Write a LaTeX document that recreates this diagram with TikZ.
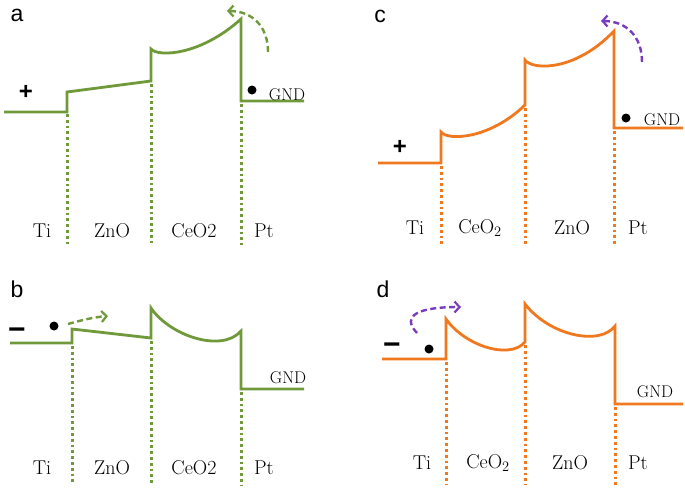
\documentclass[tikz,border=0pt]{standalone}
\usepackage{fontspec}
\newfontfamily\lettfont{Liberation Sans}
\usetikzlibrary{arrows.meta}
\definecolor{bandgreen}{RGB}{112,153,58}
\definecolor{bandorange}{RGB}{240,120,30}
\definecolor{arrowpurple}{RGB}{120,60,190}
\tikzset{
  band/.style={line width=2.8pt, line join=miter},
  sep/.style={line width=3pt, dash pattern=on 2.8pt off 3pt},
  hop/.style={line width=2.4pt, dash pattern=on 6pt off 3.5pt, -{Straight Barb[length=5pt,width=11pt,line width=2.2pt]}},
  lay/.style={font=\fontsize{20}{23}\selectfont, inner sep=0pt},
  gnd/.style={font=\fontsize{17}{19}\selectfont, inner sep=0pt},
  panel/.style={font=\lettfont\fontsize{23}{26}\selectfont, inner sep=0pt},
  sign/.style={font=\lettfont\bfseries\fontsize{24}{26}\selectfont, inner sep=0pt},
  minus/.style={font=\lettfont\bfseries\fontsize{30}{32}\selectfont, inner sep=0pt},
  elec/.style={fill=black, circle, inner sep=0pt, minimum size=9pt}
}
\begin{document}
\begin{tikzpicture}[x=1pt,y=-1pt]
\useasboundingbox (0,0) rectangle (685,491);
\fill[white] (0,0) rectangle (685,491);

% ---------------- panel a ----------------
\begin{scope}[bandgreen]
\draw[band] (4,112) -- (67,112) -- (67,92) -- (151,81) -- (151,49)
  .. controls (158,57) and (200,56) .. (241,19) -- (241,101) -- (304,101);
\draw[sep] (67,114) -- (67,245);
\draw[sep] (151,84) -- (151,245);
\draw[sep] (241,104) -- (241,245);
\coordinate (aS) at (268,52);
\coordinate (aE) at (227,11);
\draw[hop] (aS) .. controls (268,26) and (252,11) .. (aE);
\end{scope}
\node[panel] (la) at (17,15) {a};
\node[sign] (pa) at (26,92) {+};
\node[elec] (ea) at (252,90) {};
\node[gnd] (ga) at (287,95) {GND};
\node[lay] (a1) at (42,231) {Ti};
\node[lay] (a2) at (112,231) {ZnO};
\node[lay] (a3) at (194,231) {CeO2};
\node[lay] (a4) at (264,231) {Pt};

% ---------------- panel b ----------------
\begin{scope}[bandgreen]
\draw[band] (10,343) -- (72,343) -- (72,329) -- (151,338) -- (151,308)
  .. controls (170,336) and (222,353) .. (241,331) -- (241,389) -- (304,389);
\draw[sep] (72,346) -- (72,485);
\draw[sep] (151,341) -- (151,485);
\draw[sep] (241,392) -- (241,485);
\coordinate (bS) at (68,324);
\coordinate (bE) at (108,316);
\draw[hop] (bS) .. controls (82,320) and (95,317) .. (bE);
\end{scope}
\node[panel] (lb) at (17,289) {b};
\node[minus] (mb) at (17,334) {−};
\node[elec] (eb) at (54,326) {};
\node[gnd] (gb) at (288,378) {GND};
\node[lay] (b1) at (42,468) {Ti};
\node[lay] (b2) at (112,468) {ZnO};
\node[lay] (b3) at (194,468) {CeO2};
\node[lay] (b4) at (264,468) {Pt};

% ---------------- panel c ----------------
\begin{scope}[bandorange]
\draw[band] (378,163) -- (441,163) -- (441,132)
  .. controls (448,141) and (490,139) .. (525,105) -- (525,60)
  .. controls (532,70) and (575,72) .. (614,31) -- (614,128) -- (683,128);
\draw[sep] (441,166) -- (441,245);
\draw[sep] (525,108) -- (525,245);
\draw[sep] (614,131) -- (614,245);
\end{scope}
\coordinate (cS) at (642,62);
\coordinate (cE) at (601,21);
\draw[hop, arrowpurple] (cS) .. controls (642,36) and (626,21) .. (cE);
\node[panel] (lc) at (380,16) {c};
\node[sign] (pc) at (400,147) {+};
\node[elec] (ec) at (626,118) {};
\node[gnd] (gc) at (662,120) {GND};
\node[lay] (c1) at (415,228) {Ti};
\node[lay] (c2) at (480,228) {CeO$_2$};
\node[lay] (c3) at (572,228) {ZnO};
\node[lay] (c4) at (638,228) {Pt};

% ---------------- panel d ----------------
\begin{scope}[bandorange]
\draw[band] (382,359) -- (446,359) -- (446,319)
  .. controls (465,346) and (510,360) .. (525,342) -- (525,304)
  .. controls (550,336) and (600,346) .. (615,326) -- (615,404) -- (683,404);
\draw[sep] (446,362) -- (446,485);
\draw[sep] (525,345) -- (525,485);
\draw[sep] (615,407) -- (615,485);
\end{scope}
\coordinate (dS) at (417,333);
\coordinate (dE) at (461,307);
\draw[hop, arrowpurple] (dS) .. controls (400,315) and (420,307) .. (dE);
\node[panel] (ld) at (383,289) {d};
\node[minus] (md) at (392,349) {−};
\node[elec] (ed) at (429,349) {};
\node[gnd] (gd) at (655,392) {GND};
\node[lay] (d1) at (422,463) {Ti};
\node[lay] (d2) at (488,463) {CeO$_2$};
\node[lay] (d3) at (570,463) {ZnO};
\node[lay] (d4) at (638,463) {Pt};
\end{tikzpicture}
\end{document}
